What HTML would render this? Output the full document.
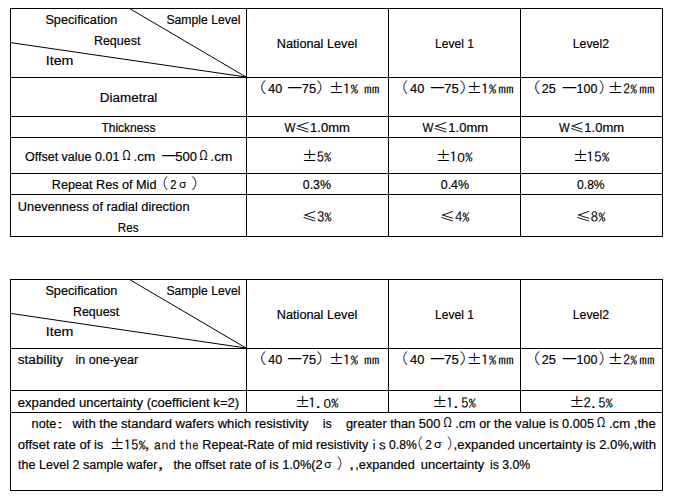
<!DOCTYPE html>
<html><head><meta charset="utf-8"><title>Specification table</title>
<style>
html,body{margin:0;padding:0;background:#fff;}
body{width:678px;height:502px;position:relative;overflow:hidden;color:#000;}
.t{position:absolute;left:0;top:0;white-space:pre;line-height:20px;height:20px;transform-origin:0 0;}
.c{font-family:"Liberation Sans",sans-serif;font-size:12.5px;-webkit-text-stroke:0.18px #000;}
.n{font-family:"IPAGothic",monospace;font-size:14px;font-weight:400;}
.p{font-family:"Noto Sans CJK SC",sans-serif;font-size:14px;font-weight:400;}
.lt{font-weight:300;}
.z{font-family:"Liberation Sans",sans-serif;font-size:12.5px;}
.pc{display:inline-block;transform:scaleY(0.75);transform-origin:50% 11px;}

.l{position:absolute;background:#000;}
svg{position:absolute;left:0;top:0;}
</style></head>
<body>
<section id="table1">
<div class="grid">
<div class="l" style="left:10px;top:8px;width:653px;height:1px"></div>
<div class="l" style="left:10px;top:77px;width:653px;height:1px"></div>
<div class="l" style="left:10px;top:116px;width:653px;height:1px"></div>
<div class="l" style="left:10px;top:137px;width:653px;height:1px"></div>
<div class="l" style="left:10px;top:173px;width:653px;height:1px"></div>
<div class="l" style="left:10px;top:194px;width:653px;height:1px"></div>
<div class="l" style="left:10px;top:236px;width:653px;height:1px"></div>
<div class="l" style="left:10px;top:8px;width:1px;height:229px"></div>
<div class="l" style="left:246px;top:8px;width:1px;height:229px"></div>
<div class="l" style="left:388px;top:8px;width:1px;height:229px"></div>
<div class="l" style="left:520px;top:8px;width:1px;height:229px"></div>
<div class="l" style="left:662px;top:8px;width:1px;height:229px"></div>
<svg width="678" height="502" viewBox="0 0 678 502"><g stroke="#000" stroke-width="1" fill="none">
<line x1="129.5" y1="8.5" x2="246" y2="77"/><line x1="10.5" y1="42.6" x2="246" y2="77"/>
</g></svg>
</div>
<div class="row">
<div class="cell">
<span class="t c" style="transform:translate(45.39px,10.00px) scaleX(1.0162)">Specification</span>
<span class="t c" style="transform:translate(166.41px,10.00px) scaleX(0.9777)">Sample Level</span>
<span class="t c" style="transform:translate(93.90px,31.00px) scaleX(0.9979)">Request</span>
<span class="t c" style="transform:translate(45.74px,51.00px) scaleX(1.1353)">Item</span>
</div>
<div class="cell">
<span class="t c" style="transform:translate(276.83px,34.00px) scaleX(1.0157)">National Level</span>
</div>
<div class="cell">
<span class="t c" style="transform:translate(435.02px,34.00px) scaleX(0.9636)">Level 1</span>
</div>
<div class="cell">
<span class="t c" style="transform:translate(572.69px,34.00px) scaleX(0.9853)">Level2</span>
</div>
</div>
<div class="row">
<div class="cell">
<span class="t c" style="transform:translate(99.86px,88.00px) scaleX(1.0746)">Diametral</span>
</div>
<div class="cell">
<span class="t p lt" style="transform:translate(247.85px,76.38px) scale(1.3478,1.0400)">（</span>
<span class="t c" style="transform:translate(268.28px,79.00px) scaleX(1.0031)">40</span>
<span class="t p" style="transform:translate(287.29px,72.54px) scale(1.2064,1.2800)">—</span>
<span class="t c" style="transform:translate(301.78px,79.00px) scaleX(1.0267)">75</span>
<span class="t p lt" style="transform:translate(316.07px,76.38px) scale(1.3204,1.0400)">）</span>
<span class="t p" style="transform:translate(328.96px,77.34px) scale(1.0620,0.9800)">±</span>
<span class="t n" style="transform:translate(342.74px,79.00px) scaleX(1.1051)">1<span class="pc">%</span></span>
<span class="t n" style="transform:translate(364.06px,79.00px) scaleX(1.1030)">mm</span>
</div>
<div class="cell">
<span class="t p lt" style="transform:translate(391.76px,76.38px) scale(1.1697,1.0400)">（</span>
<span class="t c" style="transform:translate(410.01px,79.00px) scaleX(1.0286)">40</span>
<span class="t p" style="transform:translate(430.10px,72.54px) scale(1.1896,1.2800)">—</span>
<span class="t c" style="transform:translate(444.24px,79.00px) scaleX(1.0408)">75</span>
<span class="t p lt" style="transform:translate(459.25px,76.38px) scale(1.3608,1.0400)">）</span>
<span class="t p" style="transform:translate(466.80px,77.34px) scale(1.0797,0.9800)">±</span>
<span class="t n" style="transform:translate(480.96px,79.00px) scaleX(1.1019)">1<span class="pc">%</span></span>
<span class="t n" style="transform:translate(498.19px,79.00px) scaleX(1.1057)">mm</span>
</div>
<div class="cell">
<span class="t p lt" style="transform:translate(521.40px,76.38px) scale(1.3677,1.0400)">（</span>
<span class="t c" style="transform:translate(541.74px,79.00px) scaleX(1.0165)">25</span>
<span class="t p" style="transform:translate(562.10px,72.54px) scale(1.1896,1.2800)">—</span>
<span class="t c" style="transform:translate(576.58px,79.00px) scaleX(0.9964)">100</span>
<span class="t p lt" style="transform:translate(598.62px,76.38px) scale(1.1988,1.0400)">）</span>
<span class="t p" style="transform:translate(607.76px,77.34px) scale(1.0887,0.9800)">±</span>
<span class="t n" style="transform:translate(623.34px,79.00px) scaleX(0.9804)">2<span class="pc">%</span></span>
<span class="t n" style="transform:translate(639.22px,79.00px) scaleX(1.0945)">mm</span>
</div>
</div>
<div class="row">
<div class="cell">
<span class="t c" style="transform:translate(101.43px,118.00px) scaleX(0.9601)">Thickness</span>
</div>
<div class="cell">
<span class="t c" style="transform:translate(284.47px,118.00px) scaleX(0.9266)">W</span>
<span class="t p" style="transform:translate(294.87px,117.30px) scale(1.1205,0.9200)">≤</span>
<span class="t c" style="transform:translate(310.09px,118.00px) scaleX(1.0432)">1.0mm</span>
</div>
<div class="cell">
<span class="t c" style="transform:translate(422.47px,118.00px) scaleX(0.9266)">W</span>
<span class="t p" style="transform:translate(432.84px,117.30px) scale(1.1220,0.9200)">≤</span>
<span class="t c" style="transform:translate(448.29px,118.00px) scaleX(1.0428)">1.0mm</span>
</div>
<div class="cell">
<span class="t c" style="transform:translate(559.00px,118.00px) scaleX(0.9076)">W</span>
<span class="t p" style="transform:translate(569.31px,117.30px) scale(1.0929,0.9200)">≤</span>
<span class="t c" style="transform:translate(584.33px,118.00px) scaleX(1.0446)">1.0mm</span>
</div>
</div>
<div class="row">
<div class="cell">
<span class="t c" style="transform:translate(24.94px,147.00px) scaleX(1.0019)">Offset value 0.01</span>
<span class="t p" style="transform:translate(122.32px,145.62px) scale(0.7991,0.9000)">Ω</span>
<span class="t c" style="transform:translate(133.55px,147.00px) scaleX(1.0739)">.cm</span>
<span class="t p" style="transform:translate(161.26px,140.54px) scale(1.2078,1.2800)">—</span>
<span class="t c" style="transform:translate(175.34px,147.00px) scaleX(1.0380)">500</span>
<span class="t p" style="transform:translate(199.30px,145.62px) scale(0.8025,0.9000)">Ω</span>
<span class="t c" style="transform:translate(210.34px,147.00px) scaleX(1.0918)">.cm</span>
</div>
<div class="cell">
<span class="t p" style="transform:translate(302.00px,145.34px) scale(1.0832,0.9800)">±</span>
<span class="t n" style="transform:translate(316.82px,147.00px) scaleX(1.0418)">5<span class="pc">%</span></span>
</div>
<div class="cell">
<span class="t p" style="transform:translate(435.80px,145.34px) scale(1.0797,0.9800)">±</span>
<span class="t n" style="transform:translate(449.54px,147.00px) scaleX(1.0994)">1<span class="z">0</span><span class="pc">%</span></span>
</div>
<div class="cell">
<span class="t p" style="transform:translate(572.90px,145.34px) scale(1.0711,0.9800)">±</span>
<span class="t n" style="transform:translate(586.25px,147.00px) scaleX(1.1033)">15<span class="pc">%</span></span>
</div>
</div>
<div class="row">
<div class="cell">
<span class="t c" style="transform:translate(51.83px,175.00px) scaleX(1.0103)">Repeat Res of Mid</span>
<span class="t p lt" style="transform:translate(152.10px,172.38px) scale(1.1680,1.0400)">（</span>
<span class="t c" style="transform:translate(170.16px,175.00px) scaleX(0.8935)">2</span>
<span class="t p" style="transform:translate(178.99px,175.86px) scale(0.8590,0.7600)">σ</span>
<span class="t p lt" style="transform:translate(191.08px,172.38px) scale(1.2875,1.0400)">）</span>
</div>
<div class="cell">
<span class="t c" style="transform:translate(302.78px,175.00px) scaleX(0.9915)">0.3%</span>
</div>
<div class="cell">
<span class="t c" style="transform:translate(440.78px,175.00px) scaleX(0.9915)">0.4%</span>
</div>
<div class="cell">
<span class="t c" style="transform:translate(577.06px,175.00px) scaleX(0.9662)">0.8%</span>
</div>
</div>
<div class="row">
<div class="cell">
<span class="t c" style="transform:translate(17.83px,197.00px) scaleX(1.0212)">Unevenness of radial direction</span>
<span class="t c" style="transform:translate(117.71px,218.00px) scaleX(0.9336)">Res</span>
</div>
<div class="cell">
<span class="t p" style="transform:translate(301.83px,206.30px) scale(1.1035,0.9200)">≤</span>
<span class="t n" style="transform:translate(316.88px,207.00px) scaleX(1.0633)">3<span class="pc">%</span></span>
</div>
<div class="cell">
<span class="t p" style="transform:translate(439.57px,206.30px) scale(1.1089,0.9200)">≤</span>
<span class="t n" style="transform:translate(455.03px,207.00px) scaleX(1.0321)">4<span class="pc">%</span></span>
</div>
<div class="cell">
<span class="t p" style="transform:translate(575.58px,206.30px) scale(1.1164,0.9200)">≤</span>
<span class="t n" style="transform:translate(590.86px,207.00px) scaleX(1.0403)">8<span class="pc">%</span></span>
</div>
</div>
</section>
<section id="table2">
<div class="grid">
<div class="l" style="left:10px;top:279px;width:653px;height:1px"></div>
<div class="l" style="left:10px;top:348px;width:653px;height:1px"></div>
<div class="l" style="left:10px;top:390px;width:653px;height:1px"></div>
<div class="l" style="left:10px;top:412px;width:653px;height:1px"></div>
<div class="l" style="left:10px;top:490px;width:653px;height:1px"></div>
<div class="l" style="left:10px;top:279px;width:1px;height:212px"></div>
<div class="l" style="left:662px;top:279px;width:1px;height:212px"></div>
<div class="l" style="left:246px;top:279px;width:1px;height:134px"></div>
<div class="l" style="left:388px;top:279px;width:1px;height:134px"></div>
<div class="l" style="left:520px;top:279px;width:1px;height:134px"></div>
<svg width="678" height="502" viewBox="0 0 678 502"><g stroke="#000" stroke-width="1" fill="none">
<line x1="129.5" y1="279.5" x2="246" y2="348"/><line x1="10.5" y1="313.4" x2="246" y2="348"/>
</g></svg>
</div>
<div class="row">
<div class="cell">
<span class="t c" style="transform:translate(45.39px,281.00px) scaleX(1.0162)">Specification</span>
<span class="t c" style="transform:translate(166.41px,281.00px) scaleX(0.9777)">Sample Level</span>
<span class="t c" style="transform:translate(72.91px,302.00px) scaleX(0.9949)">Request</span>
<span class="t c" style="transform:translate(45.74px,322.00px) scaleX(1.1353)">Item</span>
</div>
<div class="cell">
<span class="t c" style="transform:translate(276.83px,305.00px) scaleX(1.0157)">National Level</span>
</div>
<div class="cell">
<span class="t c" style="transform:translate(435.02px,305.00px) scaleX(0.9636)">Level 1</span>
</div>
<div class="cell">
<span class="t c" style="transform:translate(572.69px,305.00px) scaleX(0.9853)">Level2</span>
</div>
</div>
<div class="row">
<div class="cell">
<span class="t c" style="transform:translate(17.79px,350.00px) scaleX(1.0879)">stability</span>
<span class="t c" style="transform:translate(75.54px,350.00px) scaleX(1.0022)">in one-year</span>
</div>
<div class="cell">
<span class="t p lt" style="transform:translate(247.85px,347.38px) scale(1.3478,1.0400)">（</span>
<span class="t c" style="transform:translate(268.28px,350.00px) scaleX(1.0031)">40</span>
<span class="t p" style="transform:translate(287.29px,343.54px) scale(1.2064,1.2800)">—</span>
<span class="t c" style="transform:translate(301.78px,350.00px) scaleX(1.0267)">75</span>
<span class="t p lt" style="transform:translate(316.07px,347.38px) scale(1.3204,1.0400)">）</span>
<span class="t p" style="transform:translate(328.96px,348.34px) scale(1.0620,0.9800)">±</span>
<span class="t n" style="transform:translate(342.74px,350.00px) scaleX(1.1051)">1<span class="pc">%</span></span>
<span class="t n" style="transform:translate(364.06px,350.00px) scaleX(1.1030)">mm</span>
</div>
<div class="cell">
<span class="t p lt" style="transform:translate(391.76px,347.38px) scale(1.1697,1.0400)">（</span>
<span class="t c" style="transform:translate(410.01px,350.00px) scaleX(1.0286)">40</span>
<span class="t p" style="transform:translate(430.10px,343.54px) scale(1.1896,1.2800)">—</span>
<span class="t c" style="transform:translate(444.24px,350.00px) scaleX(1.0408)">75</span>
<span class="t p lt" style="transform:translate(459.25px,347.38px) scale(1.3608,1.0400)">）</span>
<span class="t p" style="transform:translate(466.80px,348.34px) scale(1.0797,0.9800)">±</span>
<span class="t n" style="transform:translate(480.96px,350.00px) scaleX(1.1019)">1<span class="pc">%</span></span>
<span class="t n" style="transform:translate(498.19px,350.00px) scaleX(1.1057)">mm</span>
</div>
<div class="cell">
<span class="t p lt" style="transform:translate(521.40px,347.38px) scale(1.3677,1.0400)">（</span>
<span class="t c" style="transform:translate(541.74px,350.00px) scaleX(1.0165)">25</span>
<span class="t p" style="transform:translate(562.10px,343.54px) scale(1.1896,1.2800)">—</span>
<span class="t c" style="transform:translate(576.58px,350.00px) scaleX(0.9964)">100</span>
<span class="t p lt" style="transform:translate(598.62px,347.38px) scale(1.1988,1.0400)">）</span>
<span class="t p" style="transform:translate(607.76px,348.34px) scale(1.0887,0.9800)">±</span>
<span class="t n" style="transform:translate(623.34px,350.00px) scaleX(0.9804)">2<span class="pc">%</span></span>
<span class="t n" style="transform:translate(639.22px,350.00px) scaleX(1.0945)">mm</span>
</div>
</div>
<div class="row">
<div class="cell">
<span class="t c" style="transform:translate(17.79px,393.00px) scaleX(1.0476)">expanded uncertainty (coefficient k=2)</span>
</div>
<div class="cell">
<span class="t p" style="transform:translate(295.00px,391.34px) scale(1.0832,0.9800)">±</span>
<span class="t n" style="transform:translate(308.21px,393.00px) scaleX(1.0857)">1.<span class="z">0</span><span class="pc">%</span></span>
</div>
<div class="cell">
<span class="t p" style="transform:translate(432.22px,391.34px) scale(1.0824,0.9800)">±</span>
<span class="t n" style="transform:translate(446.12px,393.00px) scaleX(1.0688)">1.5<span class="pc">%</span></span>
</div>
<div class="cell">
<span class="t p" style="transform:translate(569.23px,391.34px) scale(1.0831,0.9800)">±</span>
<span class="t n" style="transform:translate(583.58px,393.00px) scaleX(1.0492)">2.5<span class="pc">%</span></span>
</div>
</div>
<div class="row">
<div class="cell">
<span class="t c" style="transform:translate(31.60px,414.00px) scaleX(1.0191)">note</span>
<span class="t p" style="transform:translate(55.32px,418.10px) scale(1.3481,0.6200)">：</span>
<span class="t c" style="transform:translate(72.41px,414.00px) scaleX(1.0454)">with the standard wafers which resistivity</span>
<span class="t c" style="transform:translate(322.79px,414.00px) scaleX(0.9951)">is</span>
<span class="t c" style="transform:translate(345.96px,414.00px) scaleX(1.0281)">greater than 500</span>
<span class="t p" style="transform:translate(443.26px,412.62px) scale(0.8108,0.9000)">Ω</span>
<span class="t c" style="transform:translate(455.18px,414.00px) scaleX(1.0194)">.cm or the value is 0.005</span>
<span class="t p" style="transform:translate(596.70px,412.62px) scale(0.8117,0.9000)">Ω</span>
<span class="t c" style="transform:translate(608.93px,414.00px) scaleX(1.0536)">.cm ,the</span>
<span class="t c" style="transform:translate(17.78px,435.00px) scaleX(1.0473)">offset rate of is</span>
<span class="t p" style="transform:translate(109.71px,433.34px) scale(1.0609,0.9800)">±</span>
<span class="t n" style="transform:translate(123.76px,435.00px) scaleX(1.0514)">15<span class="pc">%</span></span>
<span class="t p" style="transform:translate(143.80px,436.90px) scale(0.9519,0.8200)">，</span>
<span class="t n" style="transform:translate(153.86px,435.00px) scaleX(1.0447)">and</span>
<span class="t n" style="transform:translate(178.33px,435.00px) scaleX(0.9684)">the</span>
<span class="t c" style="transform:translate(202.32px,435.00px) scaleX(1.0167)">Repeat-Rate of mid resistivity</span>
<span class="t n" style="transform:translate(370.06px,435.00px) scaleX(1.1570)">is</span>
<span class="t c" style="transform:translate(389.00px,435.00px) scaleX(0.9715)">0.8%</span>
<span class="t p lt" style="transform:translate(407.69px,432.38px) scale(1.0916,1.0400)">（</span>
<span class="t c" style="transform:translate(425.33px,435.00px) scaleX(0.9431)">2</span>
<span class="t p" style="transform:translate(433.82px,435.86px) scale(0.9244,0.7600)">σ</span>
<span class="t p lt" style="transform:translate(446.75px,432.38px) scale(1.0980,1.0400)">）</span>
<span class="t c" style="transform:translate(453.55px,435.00px) scaleX(1.0479)">,expanded uncertainty is 2.0%,with</span>
<span class="t c" style="transform:translate(18.12px,455.00px) scaleX(1.0027)">the Level 2 sample wafer</span>
<span class="t p" style="transform:translate(156.28px,456.90px) scale(1.2317,0.8200)">，</span>
<span class="t c" style="transform:translate(173.49px,455.00px) scaleX(1.0242)">the offset rate of is 1.0%(2</span>
<span class="t p" style="transform:translate(324.11px,455.86px) scale(0.8804,0.7600)">σ</span>
<span class="t p lt" style="transform:translate(336.60px,452.38px) scale(1.1591,1.0400)">）</span>
<span class="t c" style="transform:translate(348.90px,455.00px) scaleX(1.4944)">,</span>
<span class="t c" style="transform:translate(355.28px,455.00px) scaleX(1.0178)">,expanded</span>
<span class="t c" style="transform:translate(420.79px,455.00px) scaleX(1.0393)">uncertainty</span>
<span class="t c" style="transform:translate(489.90px,455.00px) scaleX(0.9820)">is 3.0%</span>
</div>
</div>
</section>
</body></html>
